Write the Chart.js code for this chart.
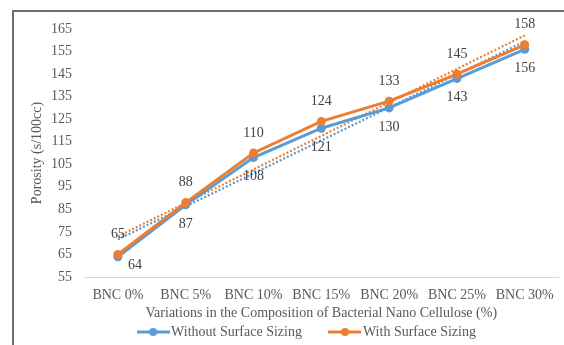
<!DOCTYPE html>
<html>
<head>
<meta charset="utf-8">
<script src="https://cdn.jsdelivr.net/npm/chart.js@4/dist/chart.umd.min.js"></script>
<style>
  html, body { margin: 0; padding: 0; background: #ffffff; }
  #wrap { width: 564px; height: 345px; }
</style>
</head>
<body>
<div id="wrap"><canvas id="chart" width="564" height="345"></canvas></div>
<script>
// Porosity by bacterial nano cellulose content
const categories = ['BNC 0%', 'BNC 5%', 'BNC 10%', 'BNC 15%', 'BNC 20%', 'BNC 25%', 'BNC 30%'];
const withoutSizing = [64, 87, 108, 121, 130, 143, 156];
const withSizing = [65, 88, 110, 124, 133, 145, 158];
const seriesNames = ['Without Surface Sizing', 'With Surface Sizing'];
const yTicks = { min: 55, max: 165, step: 10 };

const BLUE = '#5B9BD5';
const ORANGE = '#ED7D31';
const FONT = "'Liberation Serif', 'Times New Roman', serif";

// Least-squares linear trend evaluated at each category index
function linearTrend(values) {
  const n = values.length;
  const mx = (n - 1) / 2;
  const my = values.reduce((a, b) => a + b, 0) / n;
  let sxy = 0, sxx = 0;
  values.forEach((v, i) => { sxy += (i - mx) * (v - my); sxx += (i - mx) * (i - mx); });
  const slope = sxy / sxx;
  return values.map((_, i) => my + slope * (i - mx));
}

// Legend swatch: short line with a round marker
function swatch(color) {
  const c = document.createElement('canvas');
  c.width = 33; c.height = 10;
  const g = c.getContext('2d');
  g.strokeStyle = color; g.lineWidth = 3;
  g.beginPath(); g.moveTo(0, 5); g.lineTo(33, 5); g.stroke();
  g.fillStyle = color;
  g.beginPath(); g.arc(16.5, 5, 4, 0, Math.PI * 2); g.fill();
  return c;
}

// Outer frame around the chart
const frame = {
  id: 'frame',
  beforeDraw(chart) {
    const ctx = chart.ctx;
    ctx.save();
    ctx.strokeStyle = '#6f6f6f';
    ctx.lineWidth = 2;
    ctx.strokeRect(13, 11, 600, 400);
    ctx.restore();
  }
};

// Value labels next to each marker
const valueLabels = {
  id: 'valueLabels',
  afterDatasetsDraw(chart) {
    const ctx = chart.ctx;
    ctx.save();
    ctx.font = '14px ' + FONT;
    ctx.fillStyle = '#404040';
    ctx.textAlign = 'center';
    ctx.textBaseline = 'middle';
    chart.data.datasets.forEach((ds, i) => {
      if (!ds.labelSide) return;
      const meta = chart.getDatasetMeta(i);
      meta.data.forEach((pt, j) => {
        let dx = 0;
        let dy = ds.labelSide === 'below' ? 19 : -20;
        if (ds.labelNudge && ds.labelNudge[j]) { dx = ds.labelNudge[j][0]; dy = ds.labelNudge[j][1]; }
        ctx.fillText(String(ds.data[j]), pt.x + dx, pt.y + dy);
      });
    });
    ctx.restore();
  }
};

// Move the legend row into place
const legendShift = {
  id: 'legendShift',
  afterLayout(chart) {
    const lg = chart.legend;
    if (!lg) return;
    const dx = 29, dy = -29;
    lg.left += dx; lg.right += dx;
    lg.top += dy; lg.bottom += dy;
  }
};

const chart = new Chart(document.getElementById('chart'), {
  type: 'line',
  data: {
    labels: categories,
    datasets: [
      {
        label: seriesNames[0],
        data: withoutSizing,
        borderColor: BLUE, backgroundColor: BLUE,
        borderWidth: 3, pointRadius: 4.5, pointBorderWidth: 0,
        pointStyle: 'circle', tension: 0, order: 2,
        labelSide: 'below', labelNudge: { 0: [17, 9] }
      },
      {
        label: seriesNames[1],
        data: withSizing,
        borderColor: ORANGE, backgroundColor: ORANGE,
        borderWidth: 3, pointRadius: 4.5, pointBorderWidth: 0,
        pointStyle: 'circle', tension: 0, order: 1,
        labelSide: 'above'
      },
      {
        label: 'trend-without',
        data: linearTrend(withoutSizing),
        borderColor: BLUE, borderWidth: 2.2, borderDash: [2, 2],
        pointRadius: 0, tension: 0, order: 4, fill: false
      },
      {
        label: 'trend-with',
        data: linearTrend(withSizing),
        borderColor: ORANGE, borderWidth: 2.2, borderDash: [2, 2],
        pointRadius: 0, tension: 0, order: 3, fill: false
      }
    ]
  },
  options: {
    responsive: false,
    animation: false,
    devicePixelRatio: 1,
    layout: { padding: { left: 0, right: 4, top: 29, bottom: -33 } },
    plugins: {
      tooltip: { enabled: false },
      legend: {
        position: 'bottom',
        labels: {
          font: { family: FONT, size: 14 },
          color: '#595959',
          usePointStyle: true,
          pointStyleWidth: 22,
          boxHeight: 10,
          padding: 32,
          generateLabels(chart) {
            return [0, 1].map(i => {
              const ds = chart.data.datasets[i];
              return {
                text: ds.label,
                fillStyle: ds.borderColor,
                strokeStyle: ds.borderColor,
                lineWidth: 0,
                pointStyle: swatch(ds.borderColor),
                fontColor: '#595959',
                hidden: false,
                datasetIndex: i
              };
            });
          }
        }
      }
    },
    scales: {
      x: {
        offset: true,
        grid: { display: false, drawTicks: false },
        border: { display: true, color: '#d9d9d9', width: 1 },
        ticks: { font: { family: FONT, size: 14 }, color: '#595959', padding: 10, maxRotation: 0, autoSkip: false },
        title: {
          display: true,
          text: 'Variations in the Composition of Bacterial Nano Cellulose (%)',
          font: { family: FONT, size: 14 }, color: '#595959',
          padding: { top: 0, bottom: 0 }
        },
        afterFit(scale) { scale.height = 45; }
      },
      y: {
        min: yTicks.min, max: yTicks.max,
        grid: { display: false, drawTicks: false },
        border: { display: false },
        ticks: { stepSize: yTicks.step, font: { family: FONT, size: 14 }, color: '#595959', padding: 12 },
        title: {
          display: true,
          text: 'Porosity (s/100cc)',
          font: { family: FONT, size: 14 }, color: '#595959',
          padding: { top: 29, bottom: 0 }
        },
        afterFit(scale) { scale.width = 84; }
      }
    }
  },
  plugins: [frame, valueLabels, legendShift]
});
</script>
</body>
</html>
